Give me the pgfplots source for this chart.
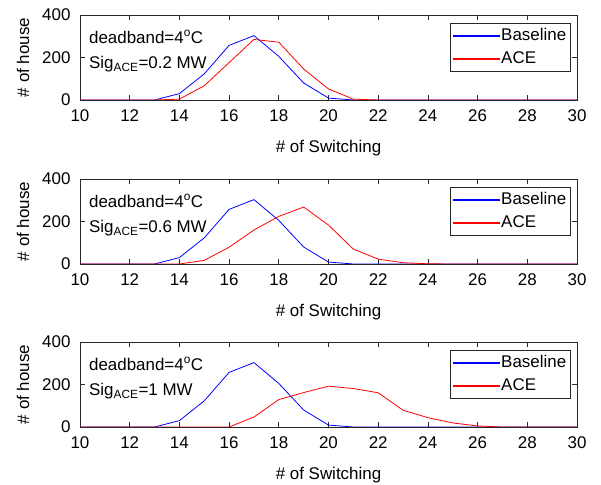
\documentclass[border=0pt]{standalone}
\usepackage{pgfplots}
\pgfplotsset{compat=1.18}
\usepackage{fontspec}
\setmainfont{Liberation Sans}

\definecolor{axgray}{RGB}{40,40,40}
\definecolor{mblue}{RGB}{0,0,255}
\definecolor{mred}{RGB}{255,0,0}

% Number of houses versus number of switching events
\pgfplotstableread{
x   base  ace02  ace06  ace1
10  0     0      0      0
11  0     0      0      0
12  0     0      0      0
13  0     0      0      0
14  30    4      0      0
15  123   67     17     0
16  257   176    79     0
17  303   285    160    47
18  205   272    224    129
19  80    146    268    162
20  9     52     183    192
21  0     4      70     181
22  0     0      23     161
23  0     0      6      79
24  0     0      1      44
25  0     0      0      19
26  0     0      0      5
27  0     0      0      0
28  0     0      0      0
29  0     0      0      0
30  0     0      0      0
}\switching

\newcommand{\figfont}{\fontsize{17}{20}\selectfont}

\pgfplotsset{
  panel/.style={
    scale only axis,
    width=497bp, height=85bp,
    anchor=south west,
    xmin=10, xmax=30, ymin=0, ymax=400,
    xtick={10,12,...,30}, ytick={0,200,400},
    tick align=inside, tick pos=both,
    major tick length=5bp,
    axis line style={axgray, line width=0.7pt},
    every tick/.style={axgray, line width=0.7pt},
    font=\figfont,
    /pgf/number format/assume math mode=true,
    xticklabel style={yshift=-6bp},
    yticklabel style={xshift=-6bp},
    xlabel={\# of Switching},
    ylabel={\# of house},
    every axis x label/.style={at={([yshift=-48bp]rel axis cs:0.5,0)}, anchor=center},
    every axis y label/.style={at={([xshift=-57bp]rel axis cs:0,0.5)}, rotate=90, anchor=center},
    % legend sample: a thin filled strip in the plot colour
    legend image code/.code={\fill[##1] (0bp,-0.45bp) rectangle (46bp,0.45bp);},
    legend cell align=left,
    legend style={
      at={(rel axis cs:0.988,0.906)}, anchor=north east,
      draw=black!85, line width=0.7pt, fill=white,
      font=\figfont,
      inner xsep=3bp, inner ysep=4bp, row sep=6bp, column sep=0bp,
      nodes={text height=12bp, text depth=3bp, inner ysep=1bp, inner xsep=1.5bp},
    },
  },
  base/.style={color=mblue, line width=0.8pt, mark=none},
  ace/.style={color=mred, line width=0.8pt, mark=none},
}

\newcommand{\panelnote}[1]{%
  \node[anchor=base west, inner sep=0pt] at (rel axis cs:0.018,0.67) {deadband=4\textsuperscript{o}C};
  \node[anchor=base west, inner sep=0pt] at (rel axis cs:0.018,0.365) {Sig\textsubscript{ACE}=#1};
}

\begin{document}
\begin{tikzpicture}
\useasboundingbox (0,0) rectangle (601bp,485bp);

\begin{axis}[panel, at={(80bp,385bp)}]
  \addplot[base] table[x=x, y=base] {\switching};
  \addlegendentry{Baseline}
  \addplot[ace] table[x=x, y=ace02] {\switching};
  \addlegendentry{ACE}
  \panelnote{0.2 MW}
\end{axis}

\begin{axis}[panel, at={(80bp,221bp)}]
  \addplot[base] table[x=x, y=base] {\switching};
  \addlegendentry{Baseline}
  \addplot[ace] table[x=x, y=ace06] {\switching};
  \addlegendentry{ACE}
  \panelnote{0.6 MW}
\end{axis}

\begin{axis}[panel, at={(80bp,58bp)}]
  \addplot[base] table[x=x, y=base] {\switching};
  \addlegendentry{Baseline}
  \addplot[ace] table[x=x, y=ace1] {\switching};
  \addlegendentry{ACE}
  \panelnote{1 MW}
\end{axis}
\end{tikzpicture}
\end{document}
